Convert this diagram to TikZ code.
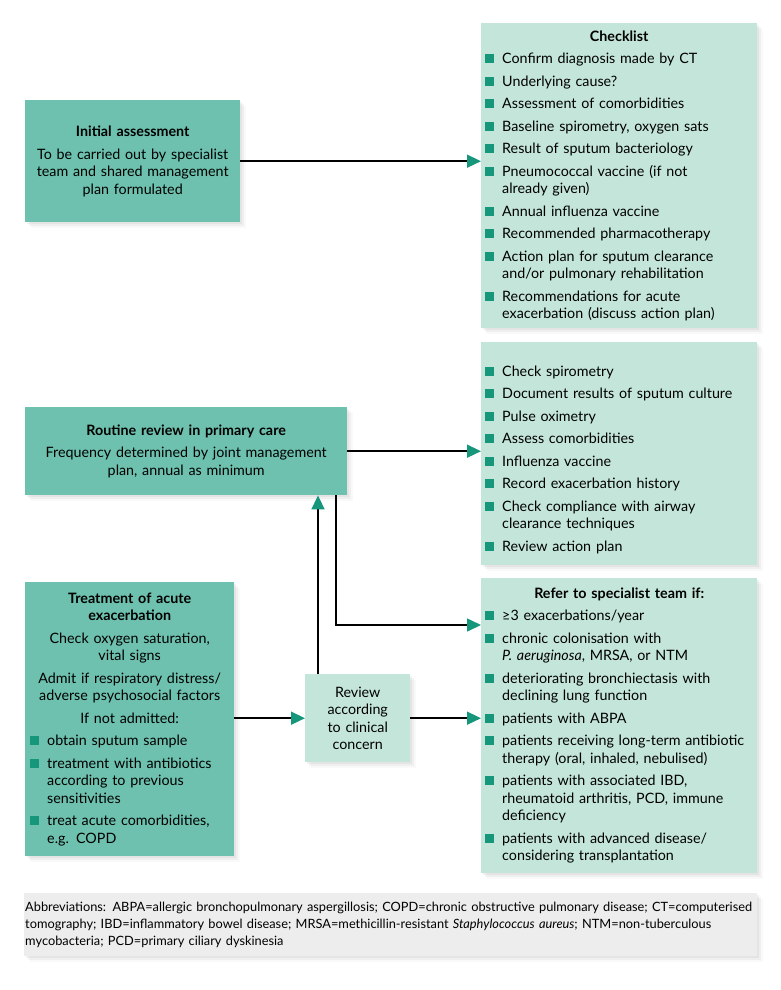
\documentclass[tikz,border=0pt]{standalone}
\usepackage{fontspec}
\setmainfont{Lato}
\usepackage{xcolor}
\usetikzlibrary{arrows.meta,positioning,shadows}

\definecolor{boxdark}{HTML}{6DC1AE}
\definecolor{boxlight}{HTML}{C4E5DA}
\definecolor{tipgreen}{HTML}{16967B}
\definecolor{boxgrey}{HTML}{EDEDED}

\newcommand{\sqbullet}{\textcolor{tipgreen}{\rule[0.5pt]{8.5pt}{9pt}}}
\newcommand{\litem}[1]{\par{\leftskip=17pt\noindent\llap{\hbox to 17pt{\sqbullet\hfil}}#1\par}}

\begin{document}
\begin{tikzpicture}[x=1pt,y=-1pt,
    box/.style={anchor=north west, inner ysep=4pt,
      font=\fontsize{14.3}{17.5}\selectfont,
      execute at begin node={\setlength{\parskip}{5pt}},
      drop shadow={shadow xshift=2pt, shadow yshift=-2pt, opacity=0.1},
      drop shadow={shadow xshift=4pt, shadow yshift=-4pt, opacity=0.08},
      drop shadow={shadow xshift=6pt, shadow yshift=-6pt, opacity=0.05}},
    darkbox/.style={box, fill=boxdark, inner xsep=5pt},
    lightbox/.style={box, fill=boxlight, inner xsep=4pt},
    link/.style={line width=1.6pt, -{Triangle[length=14pt,width=13pt,color=tipgreen]}}]
  \useasboundingbox (0,0) rectangle (780,990);

  \node[darkbox, text width=205, minimum height=122] (init) at (25,100) {\centering
    \textbf{Initial assessment}\par
    To be carried out by specialist\\ team and shared management\\ plan formulated\par};

  \node[lightbox, text width=268, minimum height=305] (check) at (481,23) {%
    {\centering\textbf{Checklist}\par}
    \litem{Confirm diagnosis made by CT}
    \litem{Underlying cause?}
    \litem{Assessment of comorbidities}
    \litem{Baseline spirometry, oxygen sats}
    \litem{Result of sputum bacteriology}
    \litem{Pneumococcal vaccine (if not\\ already given)}
    \litem{Annual influenza vaccine}
    \litem{Recommended pharmacotherapy}
    \litem{Action plan for sputum clearance\\ and/or pulmonary rehabilitation}
    \litem{Recommendations for acute\\ exacerbation (discuss action plan)}};

  \node[darkbox, text width=312, minimum height=88] (routine) at (25,407) {\centering
    \textbf{Routine review in primary care}\par
    Frequency determined by joint management\\ plan, annual as minimum\par};

  \node[lightbox, text width=268, minimum height=223] (rlist) at (481,342) {%
    \litem{Check spirometry}
    \litem{Document results of sputum culture}
    \litem{Pulse oximetry}
    \litem{Assess comorbidities}
    \litem{Influenza vaccine}
    \litem{Record exacerbation history}
    \litem{Check compliance with airway\\ clearance techniques}
    \litem{Review action plan}};

  \node[darkbox, text width=199, minimum height=274] (treat) at (25,582) {%
    {\centering\textbf{Treatment of acute\\ exacerbation}\par
    Check oxygen saturation,\\ vital signs\par
    Admit if respiratory distress/\\ adverse psychosocial factors\par
    If not admitted:\par}
    \litem{obtain sputum sample}
    \litem{treatment with antibiotics\\ according to previous\\ sensitivities}
    \litem{treat acute comorbidities,\\ e.g. COPD}};

  \node[lightbox, text width=97, minimum height=88] (review) at (305,674) {\centering
    Review\\ according\\ to clinical\\ concern\par};

  \node[lightbox, text width=268, minimum height=295] (refer) at (481,578) {%
    {\centering\textbf{Refer to specialist team if:}\par}
    \litem{≥3 exacerbations/year}
    \litem{chronic colonisation with\\ \textit{P. aeruginosa}, MRSA, or NTM}
    \litem{deteriorating bronchiectasis with\\ declining lung function}
    \litem{patients with ABPA}
    \litem{patients receiving long-term antibiotic\\ therapy (oral, inhaled, nebulised)}
    \litem{patients with associated IBD,\\ rheumatoid arthritis, PCD, immune\\ deficiency}
    \litem{patients with advanced disease/\\ considering transplantation}};

  \node[box, fill=boxgrey, inner xsep=1pt, text width=731, minimum height=63,
    font=\fontsize{12.8}{17}\selectfont] (abbrev) at (24,893) {%
    Abbreviations: ABPA=allergic bronchopulmonary aspergillosis; COPD=chronic obstructive pulmonary disease; CT=computerised\\
    tomography; IBD=inflammatory bowel disease; MRSA=methicillin-resistant \textit{Staphylococcus aureus}; NTM=non-tuberculous\\
    mycobacteria; PCD=primary ciliary dyskinesia};

  \coordinate (upfoot) at (318,674);
  \coordinate (downtop) at (336,495);
  \coordinate (referin) at (481,625);

  \draw[link] (init.east) -- (init.east -| check.west);
  \draw[link] (routine.east) -- (routine.east -| rlist.west);
  \draw[link] (treat.east |- review.west) -- (review.west);
  \draw[link] (review.east) -- (review.east -| refer.west);
  \draw[link] (upfoot) -- (upfoot |- routine.south);
  \draw[link] (downtop) |- (referin);
\end{tikzpicture}
\end{document}
